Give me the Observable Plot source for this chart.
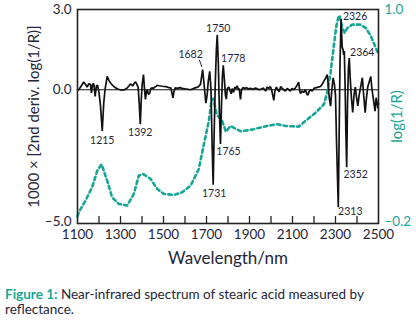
<!DOCTYPE html>
<html><head><meta charset="utf-8">
<script src="https://cdn.jsdelivr.net/npm/d3@7"></script>
<script src="https://cdn.jsdelivr.net/npm/@observablehq/plot@0.6"></script>
<style>
body{margin:0;background:#fff;}
#wrap{position:relative;width:416px;height:321px;font-family:Lato,"Noto Sans",sans-serif;}
#cap{position:absolute;left:5px;top:287px;font-size:13.5px;line-height:15px;color:#1e2638;white-space:nowrap;}
#cap b{color:#17a596;}
</style></head>
<body><div id="wrap"><div id="chart"></div>
<div id="cap"><b>Figure 1:</b> Near-infrared spectrum of stearic acid measured by<br>reflectance.</div></div>
<script>
// 2nd derivative spectrum (left axis)
const derivNm = [1100,1106,1118,1129,1137,1145,1152,1160,1165,1170,1176,1182,1188,1193,1200,1207,1215,1222,1228,1238,1246,1253,1265,1277,1290,1308,1320,1331,1340,1346,1352,1357,1364,1370,1376,1382,1387,1392,1397,1401,1407,1411,1416,1421,1425,1430,1436,1441,1447,1453,1459,1465,1470,1480,1494,1510,1525,1534,1540,1544,1549,1555,1565,1575,1587,1600,1612,1626,1640,1650,1660,1672,1682,1690,1697,1703,1708,1715,1721,1726,1731,1736,1741,1746,1750,1755,1760,1765,1770,1774,1778,1783,1788,1792,1797,1804,1810,1815,1820,1826,1832,1838,1843,1848,1852,1858,1863,1870,1878,1886,1895,1905,1915,1925,1935,1945,1955,1965,1975,1982,1990,1997,2003,2008,2013,2018,2025,2032,2038,2045,2052,2060,2067,2075,2083,2090,2097,2105,2112,2120,2129,2133,2137,2145,2152,2160,2166,2171,2178,2185,2192,2200,2210,2220,2230,2238,2246,2255,2262,2266,2271,2277,2283,2289,2295,2300,2305,2313,2318,2321,2326,2331,2335,2338,2341,2345,2348,2352,2356,2360,2364,2368,2374,2380,2386,2392,2398,2404,2410,2418,2425,2431,2438,2444,2450,2457,2464,2470,2477,2484,2489,2493,2497,2500];
const derivVal = [0.0,0.0,0.15,0.29,0.2,0.1,0.22,0.2,-0.12,0.2,0.22,-0.25,0.15,0.17,-0.1,-0.6,-1.54,-0.5,0.0,0.5,0.35,0.26,0.15,0.07,0.02,-0.02,0.0,0.07,0.15,0.22,0.18,0.14,0.25,0.29,0.2,0.1,-0.5,-1.29,-0.3,0.2,0.57,0.1,-0.36,-0.05,0.0,-0.18,-0.12,0.05,0.07,0.05,0.1,0.12,0.17,0.15,0.13,0.12,0.08,0.07,-0.15,-0.3,-0.05,0.07,0.05,0.08,0.05,0.03,0.02,0.0,0.05,0.08,0.1,0.2,0.75,0.1,-0.5,-0.2,0.3,0.69,0.0,-2.0,-3.55,-1.5,0.3,1.5,2.05,1.0,-0.8,-2.03,-0.5,0.5,0.91,0.4,-0.2,-0.35,0.05,0.1,-0.05,-0.15,0.05,-0.1,0.1,0.05,0.15,0.0,0.05,-0.36,0.0,0.08,0.05,0.08,0.03,0.05,0.02,0.06,0.04,0.0,0.03,0.06,-0.05,0.1,0.05,0.12,0.0,-0.2,-0.4,-0.05,0.1,0.0,-0.08,0.12,0.05,0.0,-0.05,0.05,0.0,-0.05,0.05,0.0,0.05,0.15,0.28,0.0,-0.14,-0.05,-0.1,0.0,-0.15,-0.2,-0.05,0.0,-0.05,0.05,0.08,0.1,0.12,0.2,0.32,0.45,0.57,0.2,-0.3,-0.61,0.0,0.44,0.2,-0.2,-2.0,-4.39,-1.0,1.0,2.64,1.6,1.5,1.3,1.45,0.0,-1.5,-2.9,-0.5,0.8,1.19,0.5,-0.3,-0.85,-0.2,0.1,-0.3,-0.6,-0.2,0.15,0.45,-0.2,-0.86,-0.3,0.1,0.3,0.5,0.0,-0.4,-0.8,-0.3,-0.45,-0.7,-0.5];
// log(1/R) spectrum (right axis)
const logNm = [1100,1106,1137,1168,1192,1212,1238,1261,1292,1331,1362,1385,1405,1440,1471,1501,1548,1587,1626,1664,1688,1711,1723,1732,1747,1773,1790,1812,1830,1858,1890,1920,1982,2029,2067,2100,2129,2160,2207,2246,2261,2277,2292,2303,2313,2319,2331,2343,2354,2378,2416,2440,2463,2494,2500];
const logVal = [-0.16,-0.137,-0.072,0.003,0.096,0.132,0.040,-0.053,-0.090,-0.099,-0.034,0.068,0.078,0.050,-0.006,-0.034,-0.040,-0.025,0.012,0.105,0.245,0.375,0.486,0.50,0.412,0.375,0.315,0.347,0.335,0.318,0.322,0.329,0.347,0.357,0.347,0.345,0.343,0.375,0.421,0.468,0.533,0.644,0.794,0.90,0.955,0.967,0.90,0.868,0.895,0.915,0.915,0.897,0.855,0.766,0.75];
const peakLabels = ["1215","1392","1682","1731","1750","1765","1778","2313","2326","2352","2364"];
const xTickLabels = [1100,1300,1500,1700,1900,2100,2300,2500];
const xMinorTicks = [1200,1300,1400,1500,1600,1700,1800,1900,2000,2100,2200,2300,2400];
const leftTicksUpper = [3,0];
const leftTicksLower = [-5];
const rightTicksUpper = [1.0];
const rightTicksLower = [-0.2];

const TEAL = "#17a596", INK = "#1e2638";
const L0 = -5, L1 = 3, R0 = -0.2, R1 = 1.0;
const toLeft = v => L0 + (v - R0) / (R1 - R0) * (L1 - L0);
const fromLeft = d => (d - L0) / (L1 - L0) * (R1 - R0) + R0;
const fmt = v => v.toFixed(1).replace("-", "\u2013");

const deriv = derivNm.map((x, i) => ({x, y: derivVal[i]}));
const logr = logNm.map((x, i) => ({x, y: toLeft(logVal[i])}));
const peaks = peakLabels.map(t => ({t, x: +t, y: deriv.find(d => d.x === +t).y}));

const off = {
  "1215": [0, 10], "1392": [0, 8], "1682": [-12, -15], "1731": [1, 9], "1750": [1, -6],
  "1765": [8, 8], "1778": [10, -7], "2313": [12, 4], "2326": [14, -3], "2352": [9, 7], "2364": [13, -5]
};

const W = 416, H = 270, mL = 77, mR = 38, mT = 9, mB = 47;
const frameH = H - mT - mB;
const yAxisOpts = {tickSize: 0, tickPadding: 6, fontSize: 13.5, label: null};

const marks = [
  Plot.ruleY([0], {stroke: "#111", strokeWidth: 1}),
  Plot.ruleX(xMinorTicks, {stroke: "#222", strokeWidth: 1.3, insetTop: frameH - 7}),
  Plot.line(logr, {x: "x", y: "y", stroke: TEAL, strokeWidth: 2.6, strokeDasharray: "3.5,3.2"}),
  Plot.line(deriv, {x: "x", y: "y", stroke: "#111", strokeWidth: 1.7, strokeLinejoin: "miter"}),
  Plot.frame({stroke: "#222", strokeWidth: 1.6}),
  Plot.axisY(leftTicksUpper, {...yAxisOpts, anchor: "left", tickFormat: fmt, color: INK}),
  Plot.axisY(leftTicksLower, {...yAxisOpts, anchor: "left", dy: -2, tickFormat: fmt, color: INK}),
  Plot.axisY(rightTicksUpper.map(toLeft), {...yAxisOpts, anchor: "right", tickFormat: d => fmt(fromLeft(d)), color: TEAL}),
  Plot.axisY(rightTicksLower.map(toLeft), {...yAxisOpts, anchor: "right", dy: -2, tickFormat: d => fmt(fromLeft(d)), color: TEAL}),
  Plot.axisX(xTickLabels, {anchor: "bottom", tickSize: 0, tickPadding: 6, tickFormat: d => String(d), fontSize: 13.5, color: INK, label: null}),
  Plot.text(["Wavelength/nm"], {frameAnchor: "bottom", lineAnchor: "middle", dy: 35, text: d => d, fontSize: 17, fill: INK}),
  Plot.text(["1000 \u00d7 [2nd deriv. log(1/R)]"], {frameAnchor: "left", textAnchor: "middle", lineAnchor: "middle", dx: -43, rotate: -90, text: d => d, fontSize: 15, fill: INK}),
  Plot.text(["log(1/R)"], {frameAnchor: "right", textAnchor: "middle", lineAnchor: "middle", dx: 19, rotate: -90, text: d => d, fontSize: 15, fill: TEAL}),
  ...peaks.map(p => Plot.text([p], {x: "x", y: "y", text: "t", dx: off[p.t][0], dy: off[p.t][1], fontSize: 10.5, fill: INK}))
];

// leader line for 1682
const p1682 = peaks.find(p => p.t === "1682");
try {
  marks.push(Plot.vector([p1682], {x: "x", y: "y", length: 7, rotate: -20, anchor: "start", dx: -0.8, dy: -3, stroke: INK, strokeWidth: 0.9,
    shape: {draw(ctx, l) { ctx.moveTo(0, 0); ctx.lineTo(0, -l); }}}));
} catch (e) {}

const chart = Plot.plot({
  width: W, height: H, marginLeft: mL, marginRight: mR, marginTop: mT, marginBottom: mB,
  x: {domain: [1100, 2500], axis: null},
  y: {domain: [L0, L1], axis: null},
  style: {fontFamily: "Lato, 'Noto Sans', sans-serif", color: INK, background: "#fff"},
  marks
});
document.getElementById("chart").appendChild(chart);
</script>
</body></html>
